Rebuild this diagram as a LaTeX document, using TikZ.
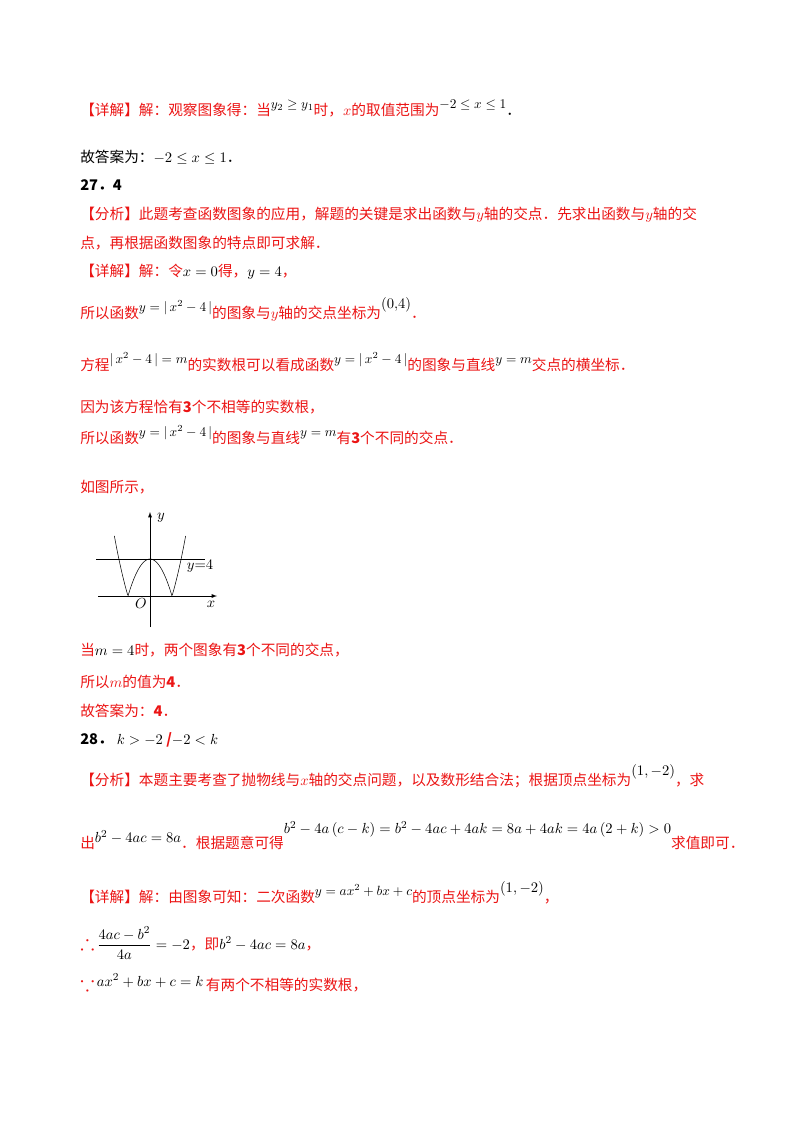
\documentclass[tikz,border=0pt]{standalone}
\usepackage{fontspec}
\usepackage{amsmath,amssymb}
\newfontfamily\cjk{Noto Sans CJK SC}
\definecolor{rd}{RGB}{235,20,20}
\begin{document}
\begin{tikzpicture}[x=0.75pt,y=-0.75pt,
  ln/.style={anchor=base west,inner sep=0pt,font=\cjk\fontsize{11}{13}\selectfont},
  red/.style={text=rd},
  blk/.style={text=black}]
\useasboundingbox (0,0) rectangle (800,1132);
\newcommand{\up}[1]{\raisebox{5pt}{\fontsize{10}{11}\selectfont$#1$}}
\newcommand{\bigsym}[1]{{\fontsize{16}{16}\selectfont$\boldsymbol{#1}$}}
\node[ln,red] (l1) at (80,115) {【详解】解：观察图象得：当\textcolor{black}{\up{y_2\ge y_1}}时，$x$的取值范围为\textcolor{black}{\up{-2\le x\le 1}}\textcolor{black}{．}};
\node[ln,blk] (l2) at (80,162) {故答案为：$-2\le x\le 1$．};
\node[ln,blk] (l3) at (80,190) {\textbf{27．4}};
\node[ln,red] (l4) at (80,219) {【分析】此题考查函数图象的应用，解题的关键是求出函数与$y$轴的交点．先求出函数与$y$轴的交};
\node[ln,red] (l5) at (80,248) {点，再根据函数图象的特点即可求解．};
\node[ln,red] (l6) at (80,276) {【详解】解：令\textcolor{black}{$x=0$}得，\textcolor{black}{$y=4$}，};
\node[ln,red] (l7) at (80,318) {所以函数\textcolor{black}{\up{y=|\,x^2-4\,|}}的图象与$y$轴的交点坐标为\textcolor{black}{\raisebox{7pt}{$\left(0{,}4\right)$}}．};
\node[ln,red] (l8) at (80,370) {方程\textcolor{black}{\up{|\,x^2-4\,|=m}}的实数根可以看成函数\textcolor{black}{\up{y=|\,x^2-4\,|}}的图象与直线\textcolor{black}{\up{y=m}}交点的横坐标．};
\node[ln,red] (l9) at (80,412) {因为该方程恰有\textbf{3}个不相等的实数根，};
\node[ln,red] (l10) at (80,443) {所以函数\textcolor{black}{\up{y=|\,x^2-4\,|}}的图象与直线\textcolor{black}{\up{y=m}}有\textbf{3}个不同的交点．};
\node[ln,red] (l11) at (80,492) {如图所示，};
% graph
\coordinate (xa) at (98,596); \coordinate (xb) at (217,596);
\coordinate (ya) at (150,627); \coordinate (yb) at (150,512);
\draw[-latex,thin] (xa) -- (xb);
\draw[-latex,thin] (ya) -- (yb);
\draw[thin] (96,559) -- (205,559);
\draw[thin,domain=-3.24:3.24,samples=120] plot ({150+11*\x},{596-9.25*abs(\x*\x-4)});
\node[inner sep=0pt,font=\fontsize{11}{13}\selectfont] (yl) at (161,518) {$y$};
\node[inner sep=0pt,font=\fontsize{11}{13}\selectfont] (y4) at (200,566) {$y{=}4$};
\node[inner sep=0pt,font=\fontsize{11}{13}\selectfont] (ol) at (141,604) {$O$};
\node[inner sep=0pt,font=\fontsize{11}{13}\selectfont] (xl) at (211,604) {$x$};
\node[ln,red] (l12) at (80,655) {当\textcolor{black}{$m=4$}时，两个图象有\textbf{3}个不同的交点，};
\node[ln,red] (l13) at (80,687) {所以$m$的值为\textbf{4}．};
\node[ln,red] (l14) at (80,716) {故答案为：\textbf{4}．};
\node[ln,blk] (l15) at (80,744) {\textbf{28．}$\;k>-2$ \textcolor{rd}{\textbf{/}}$-2<k$};
\node[ln,red] (l16) at (80,785) {【分析】本题主要考查了抛物线与$x$轴的交点问题，以及数形结合法；根据顶点坐标为\textcolor{black}{\raisebox{7pt}{$\left(1,-2\right)$}}，求};
\node[ln,red] (l17) at (80,848) {出\textcolor{black}{\raisebox{4pt}{$b^2-4ac=8a$}}．根据题意可得\textcolor{black}{\raisebox{11pt}{$b^2-4a\left(c-k\right)=b^2-4ac+4ak=8a+4ak=4a\left(2+k\right)>0$}}求值即可．};
\node[ln,red] (l18) at (80,902) {【详解】解：由图象可知：二次函数\textcolor{black}{\up{y=ax^2+bx+c}}的顶点坐标为\textcolor{black}{\raisebox{7pt}{$\left(1,-2\right)$}}，};
\node[ln,red] (l19) at (80,949) {\bigsym{\therefore}\,\textcolor{black}{$\dfrac{4ac-b^2}{4a}=-2$}，即\textcolor{black}{$b^2-4ac=8a$}，};
\node[ln,red] (l20) at (80,990) {\bigsym{\because}\,\textcolor{black}{\raisebox{3pt}{$ax^2+bx+c=k$}}\,有两个不相等的实数根，};
\end{tikzpicture}
\end{document}
